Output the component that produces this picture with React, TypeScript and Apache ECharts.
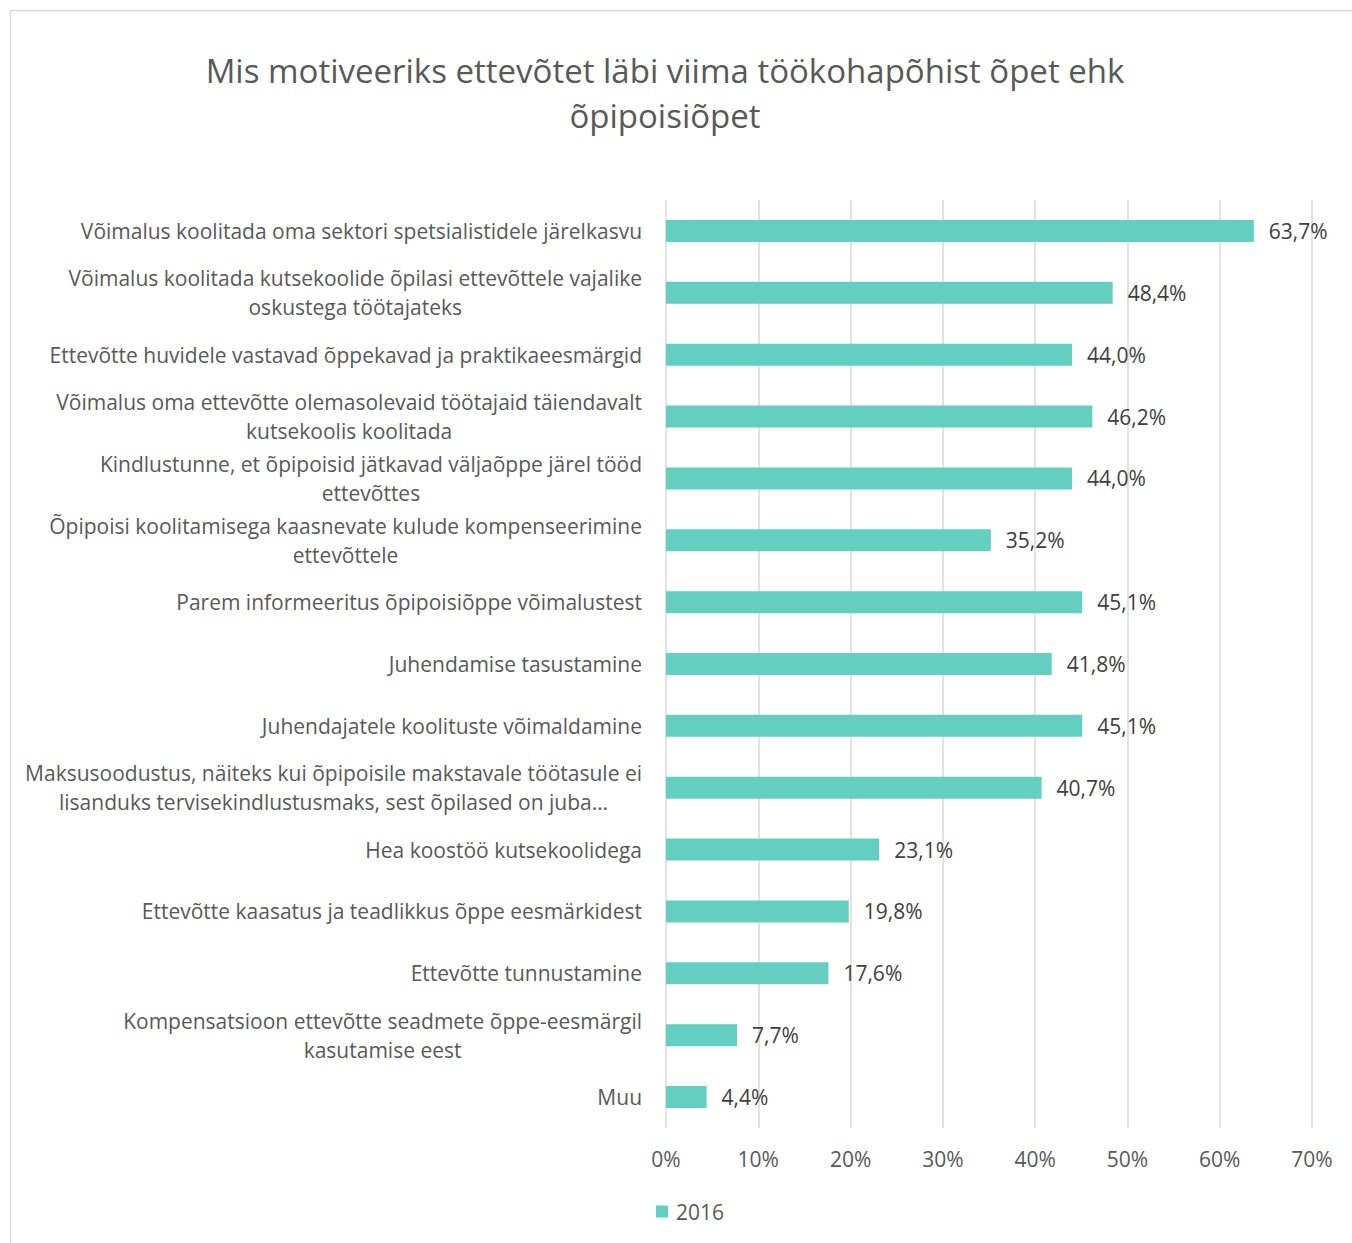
import React, { useEffect, useRef } from "react";
import * as echarts from "echarts";

const titleLines = [
  "Mis motiveeriks ettevõtet läbi viima töökohapõhist õpet ehk",
  "õpipoisiõpet",
];

const categories = [
  "Võimalus koolitada oma sektori spetsialistidele järelkasvu",
  "Võimalus koolitada kutsekoolide õpilasi ettevõttele vajalike\noskustega töötajateks",
  "Ettevõtte huvidele vastavad õppekavad ja praktikaeesmärgid",
  "Võimalus oma ettevõtte olemasolevaid töötajaid täiendavalt\nkutsekoolis koolitada",
  "Kindlustunne, et õpipoisid jätkavad väljaõppe järel tööd\nettevõttes",
  "Õpipoisi koolitamisega kaasnevate kulude kompenseerimine\nettevõttele",
  "Parem informeeritus õpipoisiõppe võimalustest",
  "Juhendamise tasustamine",
  "Juhendajatele koolituste võimaldamine",
  "Maksusoodustus, näiteks kui õpipoisile makstavale töötasule ei\nlisanduks tervisekindlustusmaks, sest õpilased on juba…",
  "Hea koostöö kutsekoolidega",
  "Ettevõtte kaasatus ja teadlikkus õppe eesmärkidest",
  "Ettevõtte tunnustamine",
  "Kompensatsioon ettevõtte seadmete õppe-eesmärgil\nkasutamise eest",
  "Muu",
];

const values2016 = [63.7, 48.4, 44.0, 46.2, 44.0, 35.2, 45.1, 41.8, 45.1, 40.7, 23.1, 19.8, 17.6, 7.7, 4.4];

const seriesName = "2016";

const FONT = "'Open Sans', 'DejaVu Sans', sans-serif";

export default function App() {
  const ref = useRef<HTMLDivElement>(null);
  useEffect(() => {
    if (!ref.current) return;
    const chart = echarts.init(ref.current, undefined, { renderer: "svg" });
    chart.setOption({
      animation: false,
      backgroundColor: "#ffffff",
      textStyle: { fontFamily: FONT },
      graphic: [
        {
          type: "rect",
          shape: { x: 10.5, y: 10.5, width: 1380, height: 1280 },
          style: { fill: "none", stroke: "#d9d9d9", lineWidth: 1.5 },
          silent: true,
        },
        {
          type: "text",
          x: 665,
          y: 48,
          style: {
            text: titleLines.join("\n"),
            textAlign: "center",
            fill: "#595959",
            font: `33px ${FONT}`,
            lineHeight: 45,
          },
        },
      ],
      legend: {
        data: [seriesName],
        left: 651,
        top: 1196,
        icon: "rect",
        itemWidth: 12,
        itemHeight: 12,
        itemGap: 6,
        textStyle: { color: "#595959", fontSize: 21, fontFamily: FONT, padding: [0, 0, 0, 3] },
      },
      grid: { left: 666, right: 40, top: 200, bottom: 115, containLabel: false },
      xAxis: {
        type: "value",
        min: 0,
        max: 70,
        interval: 10,
        axisLine: { show: false },
        axisTick: { show: false },
        axisLabel: {
          formatter: "{value}%",
          color: "#595959",
          fontSize: 21,
          fontFamily: FONT,
          margin: 20,
        },
        splitLine: { show: true, lineStyle: { color: "#d9d9d9", width: 1.5 } },
      },
      yAxis: {
        type: "category",
        data: categories,
        inverse: true,
        axisLine: { show: false },
        axisTick: { show: false },
        axisLabel: {
          color: "#595959",
          fontSize: 21,
          fontFamily: FONT,
          margin: 24,
          align: "right",
          lineHeight: 29,
          formatter: (v: string) =>
            v
              .split("\n")
              .map((l) => `{c|${l}}`)
              .join("\n"),
          rich: {
            c: {
              align: "center",
              color: "#595959",
              fontSize: 21,
              fontFamily: FONT,
              lineHeight: 29,
            },
          },
        },
      },
      series: [
        {
          name: seriesName,
          type: "bar",
          data: values2016,
          barWidth: 22,
          itemStyle: { color: "#63cfc1" },
          label: {
            show: true,
            position: "right",
            distance: 15,
            color: "#404040",
            fontSize: 21,
            fontFamily: FONT,
            formatter: (p: any) => p.value.toFixed(1).replace(".", ",") + "%",
          },
        },
      ],
    });
    return () => chart.dispose();
  }, []);
  return (
    <div
      ref={ref}
      style={{ position: "absolute", left: 0, top: 0, width: 1352, height: 1243 }}
    />
  );
}
